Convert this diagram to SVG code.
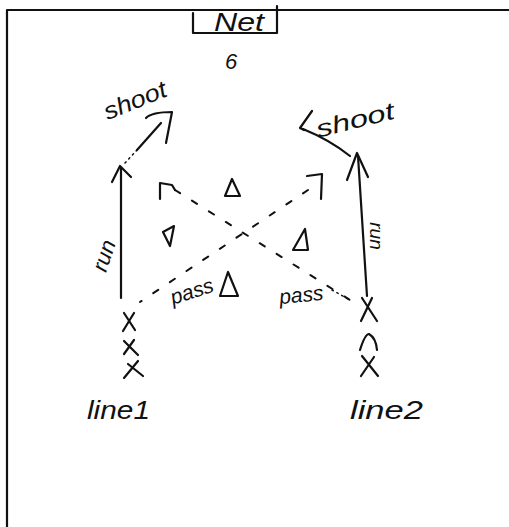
<svg xmlns="http://www.w3.org/2000/svg" width="509" height="527" viewBox="0 0 509 527">
<style>
.s{fill:none;stroke:#111;stroke-width:2.2;stroke-linecap:round;stroke-linejoin:round}
.d{fill:none;stroke:#111;stroke-width:2;stroke-linecap:round;stroke-dasharray:6 14}
.dot{fill:none;stroke:#111;stroke-width:1.5;stroke-linecap:round;stroke-dasharray:1.5 4}
.t{font-family:"Liberation Sans",Arial,sans-serif;fill:#111;font-style:italic}
</style>
<rect width="509" height="527" fill="#fff"/>
<g id="frame">
<path class="s" d="M7,527 L7,10 L509,10"/>
</g>
<g id="net">
<path class="s" d="M193,13 L193,33 L277,33 L277,6"/>
<text class="t" x="239" y="31" font-size="25" text-anchor="middle" textLength="50" lengthAdjust="spacingAndGlyphs">Net</text>
<text class="t" x="231" y="69" font-size="22" text-anchor="middle">6</text>
</g>
<g id="connectors">
<path class="dot" d="M125,163 L137,150"/>
<path class="s" d="M137,150 L161,123"/>
<path class="s" d="M146,118 Q152,112 172,112 L166,143"/>
<path class="s" d="M121,298 L121,168"/>
<path class="s" d="M112,182 L120,166 L131,177"/>
<path class="s" d="M367,296 L358,156"/>
<path class="s" d="M347,180 L357,153 L368,177"/>
<path class="s" d="M350,156 Q330,140 303,129"/>
<path class="s" d="M312,111 L300,128 L304,130"/>
<path class="d" d="M175,190 L350,300"/>
<path class="d" d="M308,190 L140,302"/>
<path class="dot" d="M332,290 L350,300"/>
</g>
<g id="labels">
<text class="t" font-size="24" transform="translate(138,108) rotate(-22)" text-anchor="middle" textLength="66" lengthAdjust="spacingAndGlyphs">shoot</text>
<text class="t" font-size="24" transform="translate(357,128) rotate(-14)" text-anchor="middle" textLength="80" lengthAdjust="spacingAndGlyphs">shoot</text>
<text class="t" font-size="22" transform="translate(111,258) rotate(-72)" text-anchor="middle">run</text>
<text class="t" font-size="19" transform="translate(370,236) rotate(90)" text-anchor="middle">run</text>
<text class="t" font-size="21" transform="translate(194,298) rotate(-18)" text-anchor="middle">pass</text>
<text class="t" font-size="21" transform="translate(302,302) rotate(-6)" text-anchor="middle">pass</text>
</g>
<g id="cones">
<path class="s" d="M160,199 L160,183 L172,185 L175,190"/>
<path class="s" d="M225,196 L232,179 L240,196 Z"/>
<path class="s" d="M307,176 L322,174 L321,199"/>
<path class="s" d="M163,232 L170,246 L174,226 Z"/>
<path class="s" d="M293,250 L305,229 L308,250 Z"/>
<path class="s" d="M220,296 L228,272 L238,296 Z"/>
</g>
<g id="line1">
<path class="s" d="M124,313 L135,330 M134,313 L123,331"/>
<path class="s" d="M124,341 L138,355 M134,340 L124,354"/>
<path class="s" d="M124,378 L138,361 M128,364 L143,376"/>
<text class="t" x="87" y="419" font-size="25" textLength="63" lengthAdjust="spacingAndGlyphs">line1</text>
</g>
<g id="line2">
<path class="s" d="M362,298 L377,321 M372,298 L361,321"/>
<path class="s" d="M360,350 Q365,334 369,334 Q376,338 377,350"/>
<path class="s" d="M362,356 L378,376 M374,357 L361,376"/>
<text class="t" x="350" y="419" font-size="25" textLength="73" lengthAdjust="spacingAndGlyphs">line2</text>
</g>
</svg>
